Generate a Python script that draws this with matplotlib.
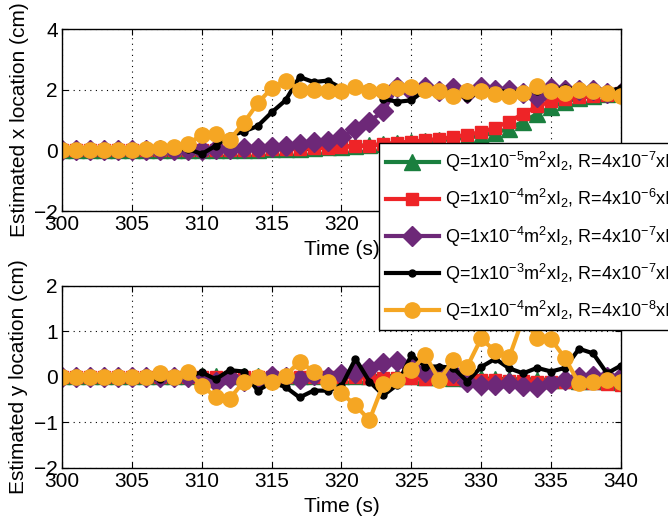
import numpy as np
import matplotlib
matplotlib.use("Agg")
import matplotlib.pyplot as plt

plt.rcParams['font.family'] = ['Liberation Sans', 'DejaVu Sans']
plt.rcParams['mathtext.fontset'] = 'custom'
plt.rcParams['mathtext.rm'] = 'Liberation Sans'
plt.rcParams['mathtext.it'] = 'Liberation Sans:italic'

# time stamps (s)
time = np.arange(300, 341)

# estimated x location (cm)
green_x = [0, 0, 0, 0, 0, 0, 0, 0, 0, 0, 0, 0, 0, 0.01, 0.02, 0.03, 0.05, 0.06, 0.08, 0.1,
           0.12, 0.15, 0.17, 0.2, 0.24, 0.27, 0.3, 0.33, 0.37, 0.42, 0.48, 0.58, 0.72, 0.95,
           1.2, 1.42, 1.6, 1.72, 1.8, 1.85, 1.9]
red_x = [0, 0, 0, 0, 0, 0, 0, 0, 0, 0, 0, 0, 0, 0.01, 0.02, 0.03, 0.04, 0.05, 0.07, 0.09,
         0.11, 0.13, 0.16, 0.2, 0.25, 0.29, 0.33, 0.38, 0.44, 0.52, 0.6, 0.75, 0.95, 1.2,
         1.45, 1.62, 1.7, 1.76, 1.8, 1.84, 1.88]
purple_x = [0, 0, 0, 0, 0, 0, 0, 0, 0, 0, 0.0, 0.03, 0.05, 0.07, 0.09, 0.11, 0.15, 0.22,
            0.27, 0.32, 0.45, 0.7, 0.95, 1.3, 2.1, 1.95, 2.1, 1.95, 2.05, 1.9, 2.1, 2.0, 2.0,
            1.9, 1.75, 2.05, 2.0, 2.0, 2.0, 1.9, 1.9]
black_x = [0, 0, 0, 0, 0, 0, 0, 0, 0.02, 0.05, -0.12, 0.15, 0.48, 0.62, 0.8, 1.25, 1.65,
           2.42, 2.25, 2.3, 2.05, 2.0, 2.1, 1.7, 1.6, 1.65, 2.0, 2.0, 1.9, 1.72, 1.95, 2.0,
           1.9, 1.95, 1.95, 2.0, 2.05, 2.0, 2.05, 1.95, 2.05]
orange_x = [0, 0, 0, 0, 0, 0, 0.03, 0.08, 0.12, 0.22, 0.5, 0.55, 0.35, 0.9, 1.55, 2.05,
            2.3, 2.0, 2.0, 1.95, 1.95, 2.08, 1.95, 1.95, 2.05, 2.08, 2.0, 1.97, 1.8, 1.97,
            1.97, 1.85, 1.8, 1.88, 2.12, 1.95, 1.9, 2.0, 1.95, 1.9, 1.8]

# estimated y location (cm)
green_y = [0.02] * 26 + [0.0, 0.0, -0.02, -0.02, -0.03, -0.04, -0.05, -0.05, -0.06, -0.06,
                         -0.07, -0.08, -0.08, -0.09, -0.1]
red_y = [0] * 21 + [-0.01, -0.02, -0.02, -0.03, -0.03, -0.04, -0.04, -0.05, -0.05, -0.06,
                    -0.07, -0.08, -0.09, -0.1, -0.1, -0.12, -0.13, -0.14, -0.15, -0.17]
purple_y = [0, 0, 0, 0, 0, 0, 0, 0, 0, 0, -0.05, -0.1, -0.03, -0.08, -0.05, 0.03, 0.0,
            -0.05, 0.05, 0.0, 0.07, 0.08, 0.2, 0.3, 0.35, 0.23, 0.12, 0.08, 0.08, -0.1,
            -0.18, -0.18, -0.14, -0.2, -0.22, -0.14, -0.07, 0.0, 0.03, 0.0, 0.0]
black_y = [0, 0, 0, 0, 0, 0, 0, -0.05, 0.05, 0.02, 0.1, -0.05, 0.15, 0.12, -0.3, -0.12,
           -0.22, -0.45, -0.3, -0.3, -0.2, 0.4, -0.1, -0.4, -0.17, 0.48, 0.23, 0.23, 0.2,
           -0.1, 0.22, 0.4, 0.19, 0.08, 0.2, 0.12, 0.2, 0.62, 0.52, 0.08, 0.25]
orange_y = [0, 0, 0, 0, 0, 0, 0, 0.08, 0.0, 0.12, -0.2, -0.43, -0.48, -0.1, 0.0, -0.1,
            0.03, 0.34, 0.12, -0.1, -0.36, -0.62, -0.95, -0.15, -0.07, 0.15, 0.48, -0.07,
            0.37, 0.23, 0.85, 0.56, 0.43, 1.3, 0.85, 0.83, 0.41, -0.14, -0.1, -0.06, -0.12]

labels = [
    r"Q=1x10$^{-5}$m$^{2}$xI$_{2}$, R=4x10$^{-7}$xI$_{4}$",
    r"Q=1x10$^{-4}$m$^{2}$xI$_{2}$, R=4x10$^{-6}$xI$_{4}$",
    r"Q=1x10$^{-4}$m$^{2}$xI$_{2}$, R=4x10$^{-7}$xI$_{4}$",
    r"Q=1x10$^{-3}$m$^{2}$xI$_{2}$, R=4x10$^{-7}$xI$_{4}$",
    r"Q=1x10$^{-4}$m$^{2}$xI$_{2}$, R=4x10$^{-8}$xI$_{4}$",
]
styles = [
    dict(color='#1a7f3e', marker='^', markersize=11),
    dict(color='#ee2427', marker='s', markersize=9),
    dict(color='#6d2878', marker='D', markersize=10),
    dict(color='black', marker='o', markersize=5),
    dict(color='#f5a623', marker='o', markersize=11),
]

fig = plt.figure(figsize=(6.68, 5.19), dpi=100)
ax1 = fig.add_axes([0.0928, 0.5934, 0.8368, 0.3507])
ax2 = fig.add_axes([0.0928, 0.0983, 0.8368, 0.3507])

handles = []
for ys, st in zip([green_x, red_x, purple_x, black_x, orange_x], styles):
    h, = ax1.plot(time, ys, linewidth=3, **st)
    handles.append(h)
for ys, st in zip([green_y, red_y, purple_y, black_y, orange_y], styles):
    ax2.plot(time, ys, linewidth=3, **st)

for ax, ylab in [(ax1, 'Estimated x location (cm)'), (ax2, 'Estimated y location (cm)')]:
    ax.set_xlim(300, 340)
    ax.set_xticks(np.arange(300, 341, 5))
    ax.set_xlabel('Time (s)', fontsize=15, labelpad=4)
    ax.set_ylabel(ylab, fontsize=15, labelpad=4)
    ax.grid(True, color='black', linestyle=(0, (1, 4)), linewidth=0.8)
    ax.tick_params(direction='in', top=True, right=True, labelsize=15, length=4, pad=3)
    for sp in ax.spines.values():
        sp.set_linewidth(1.0)

ax1.set_ylim(-2, 4)
ax1.set_yticks([-2, 0, 2, 4])
ax2.set_ylim(-2, 2)
ax2.set_yticks([-2, -1, 0, 1, 2])

# legend sits across both panels and runs off the right edge, as in the original
leg = fig.legend(handles, labels, loc='upper left', bbox_to_anchor=(0.5674, 0.7245),
                 fontsize=13, frameon=True, fancybox=False, framealpha=1,
                 edgecolor='black', handlelength=2.9, labelspacing=0.72,
                 borderpad=0.4, handletextpad=0.35, borderaxespad=0)
leg.get_frame().set_linewidth(1.0)

fig.savefig('out.png', dpi=100)
